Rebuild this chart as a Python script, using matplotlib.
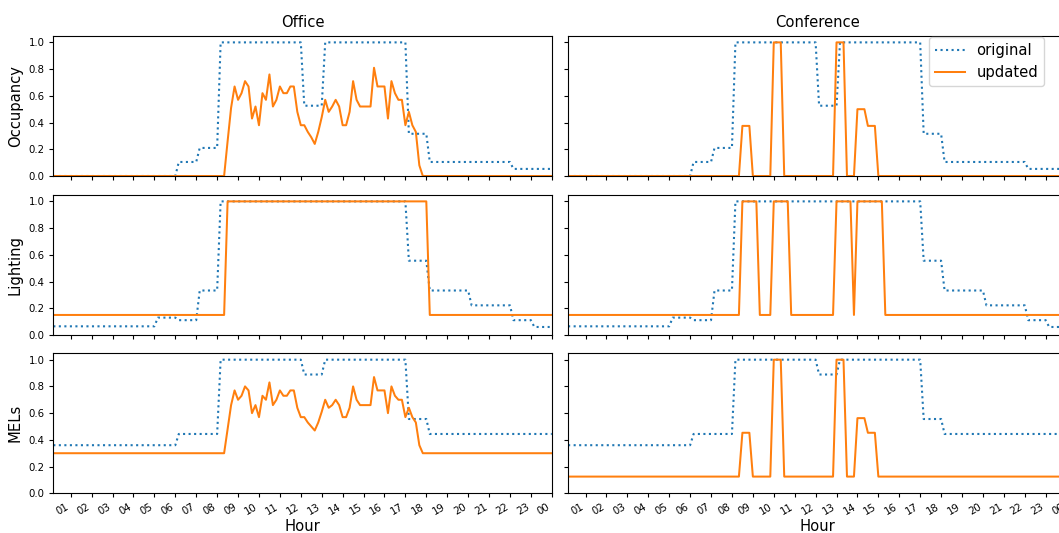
import numpy as np
import matplotlib
matplotlib.use('Agg')
import matplotlib.pyplot as plt

# 10 minute time steps, 00:10 ... 24:00 (hours)
t = np.arange(1, 145) / 6.0

# original schedules, one value per hour (hour ending 01 ... 24)
occ_orig = [0, 0, 0, 0, 0, 0, 0.105, 0.21, 1, 1, 1, 1,
            0.526, 1, 1, 1, 1, 0.316, 0.105, 0.105, 0.105, 0.105, 0.053, 0.053]
light_orig = [0.065, 0.065, 0.065, 0.065, 0.065, 0.13, 0.111, 0.333, 1, 1, 1, 1,
              1, 1, 1, 1, 1, 0.556, 0.333, 0.333, 0.222, 0.222, 0.111, 0.06]
mel_orig = [0.36, 0.36, 0.36, 0.36, 0.36, 0.36, 0.444, 0.444, 1, 1, 1, 1,
            0.889, 1, 1, 1, 1, 0.556, 0.444, 0.444, 0.444, 0.444, 0.444, 0.444]

# updated office schedules, 10 min values from 08:30 to 17:40
office_start = 8.5
office_occ = [0.26, 0.51, 0.67, 0.57, 0.62, 0.71, 0.67, 0.43, 0.52, 0.38,
              0.62, 0.57, 0.76, 0.52, 0.57, 0.67, 0.62, 0.62, 0.67, 0.67,
              0.48, 0.38, 0.38, 0.33, 0.29, 0.24, 0.33, 0.44, 0.57, 0.48,
              0.52, 0.57, 0.52, 0.38, 0.38, 0.48, 0.71, 0.57, 0.52, 0.52,
              0.52, 0.52, 0.81, 0.67, 0.67, 0.67, 0.43, 0.71, 0.62, 0.57,
              0.57, 0.38, 0.48, 0.38, 0.33, 0.08]
office_mel = [0.48, 0.66, 0.77, 0.70, 0.73, 0.80, 0.77, 0.60, 0.66, 0.57,
              0.73, 0.70, 0.83, 0.66, 0.70, 0.77, 0.73, 0.73, 0.77, 0.77,
              0.64, 0.57, 0.57, 0.53, 0.50, 0.47, 0.53, 0.61, 0.70, 0.64,
              0.66, 0.70, 0.66, 0.57, 0.57, 0.64, 0.80, 0.70, 0.66, 0.66,
              0.66, 0.66, 0.87, 0.77, 0.77, 0.77, 0.60, 0.80, 0.73, 0.70,
              0.70, 0.57, 0.64, 0.57, 0.53, 0.36]
office_mel_base = 0.30
office_light_on = [(8.5, 18.0)]
light_base = 0.15

# updated conference schedules: meetings (start, end, value)
conf_meet_start = [8.5, 10.0, 13.0, 14.0, 14.5]
conf_meet_end = [8 + 5/6, 10 + 2/6, 13 + 2/6, 14 + 2/6, 14 + 5/6]
conf_meet_occ = [0.375, 1.0, 1.0, 0.5, 0.375]
conf_meet_mel = [0.453, 1.0, 1.0, 0.5625, 0.453]
conf_mel_base = 0.125
conf_light_on = [(8.5, 9 + 1/6), (10.0, 10 + 4/6), (13.0, 13 + 4/6), (14.0, 15 + 1/6)]

hour_ticks = np.arange(1, 25)
hour_labels = ['%02d' % (h % 24) for h in hour_ticks]


def hourly(vals):
    return np.repeat(np.array(vals, dtype=float), 6)


def from_start(vals, start, base):
    y = np.full(t.size, base)
    i0 = int(round(start * 6)) - 1
    y[i0:i0 + len(vals)] = vals
    return y


def from_blocks(starts, ends, vals, base):
    y = np.full(t.size, base)
    for s, e, v in zip(starts, ends, vals):
        y[(t > s - 1e-6) & (t < e + 1e-6)] = v
    return y


def on_off(periods, base):
    y = np.full(t.size, base)
    for s, e in periods:
        y[(t > s - 1e-6) & (t < e + 1e-6)] = 1.0
    return y


orig = [hourly(occ_orig), hourly(light_orig), hourly(mel_orig)]
upd_office = [from_start(office_occ, office_start, 0.0),
              on_off(office_light_on, light_base),
              from_start(office_mel, office_start, office_mel_base)]
upd_conf = [from_blocks(conf_meet_start, conf_meet_end, conf_meet_occ, 0.0),
            on_off(conf_light_on, light_base),
            from_blocks(conf_meet_start, conf_meet_end, conf_meet_mel, conf_mel_base)]

row_names = ['Occupancy', 'Lighting', 'MELs']

fig, axes = plt.subplots(3, 2, figsize=(10.59, 5.33), dpi=100, sharex=True, sharey='row')

W, H = 1059.0, 533.0
lefts = [53.3 / W, 568.1 / W]
bottoms = [1 - 176 / H, 1 - 335 / H, 1 - 493.3 / H]
aw = 498.5 / W
ah = 140.3 / H

for r in range(3):
    for c in range(2):
        ax = axes[r, c]
        ax.set_position([lefts[c], bottoms[r], aw, ah])
        upd = upd_office if c == 0 else upd_conf
        ax.plot(t, orig[r], ls=':', color='#1f77b4', lw=1.5, label='original')
        ax.plot(t, upd[r], ls='-', color='#ff7f0e', lw=1.45, label='updated')
        ax.set_xlim(t[0], t[-1])
        ax.set_ylim(0, 1.05)
        ax.set_yticks([0, 0.2, 0.4, 0.6, 0.8, 1.0])
        ax.set_xticks(hour_ticks)
        ax.tick_params(labelsize=7.3, length=2.8)
        if c == 0:
            ax.set_ylabel(row_names[r], fontsize=10.6)
    axes[r, 1].tick_params(labelleft=False)

for c in range(2):
    ax = axes[2, c]
    ax.set_xticklabels(hour_labels, rotation=30, ha='right')
    ax.set_xlabel('Hour', fontsize=10.6, labelpad=1.2)

axes[0, 0].set_title('Office', fontsize=10.6)
axes[0, 1].set_title('Conference', fontsize=10.6)

axes[0, 1].legend(loc='upper right', bbox_to_anchor=(0.955, 0.99), borderaxespad=0,
                  fontsize=10.6)

plt.savefig('out.png', dpi=100)
